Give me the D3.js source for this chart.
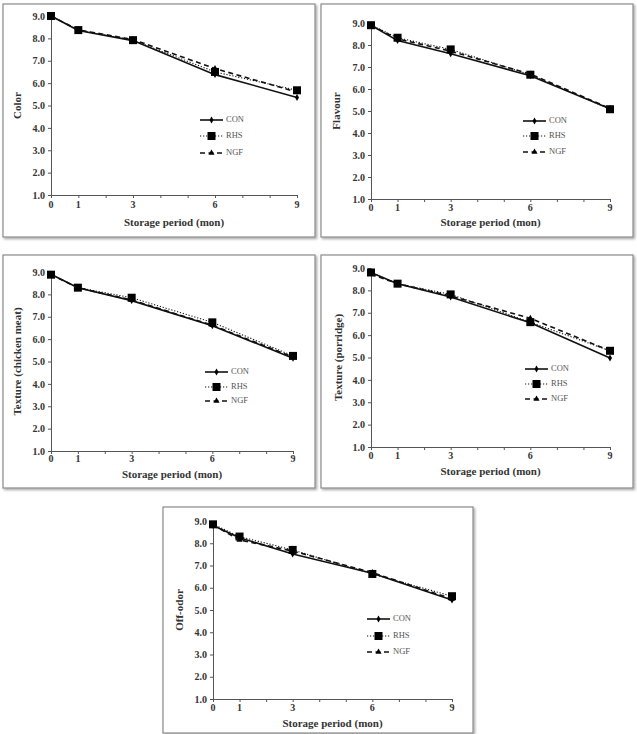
<!DOCTYPE html>
<html><head><meta charset="utf-8">
<script src="https://cdn.jsdelivr.net/npm/d3@7"></script>
<style>body{margin:0;background:#fff}svg{display:block}text{font-family:"Liberation Serif","Times New Roman","DejaVu Serif",serif}</style>
</head><body>
<script>
// ---- data ----
const months = [0, 1, 3, 6, 9];
const xTickValues = [0,1,2,3,4,5,6,7,8,9];
const xTickLabels = [0, 1, 3, 6, 9];
const yTickValues = [1,2,3,4,5,6,7,8,9];
const seriesNames = ["CON", "RHS", "NGF"];
const panelTitles = ["Color", "Flavour", "Texture (chicken meat)", "Texture (porridge)", "Off-odor"];
const xTitle = "Storage period (mon)";

const colorCON = [9.0, 8.35, 7.90, 6.38, 5.36];
const colorRHS = [9.0, 8.37, 7.92, 6.50, 5.68];
const colorNGF = [9.0, 8.38, 7.95, 6.65, 5.60];

const flavourCON = [8.9, 8.20, 7.60, 6.60, 5.10];
const flavourRHS = [8.9, 8.33, 7.80, 6.65, 5.08];
const flavourNGF = [8.9, 8.28, 7.72, 6.68, 5.12];

const chickenCON = [8.90, 8.30, 7.72, 6.60, 5.15];
const chickenRHS = [8.88, 8.30, 7.85, 6.75, 5.25];
const chickenNGF = [8.88, 8.30, 7.75, 6.62, 5.20];

const porridgeCON = [8.80, 8.30, 7.70, 6.55, 4.98];
const porridgeRHS = [8.80, 8.30, 7.82, 6.58, 5.30];
const porridgeNGF = [8.72, 8.30, 7.75, 6.75, 5.30];

const offodorCON = [8.80, 8.25, 7.52, 6.65, 5.45];
const offodorRHS = [8.85, 8.30, 7.70, 6.62, 5.62];
const offodorNGF = [8.82, 8.15, 7.65, 6.68, 5.50];

const panelData = [
  [colorCON, colorRHS, colorNGF],
  [flavourCON, flavourRHS, flavourNGF],
  [chickenCON, chickenRHS, chickenNGF],
  [porridgeCON, porridgeRHS, porridgeNGF],
  [offodorCON, offodorRHS, offodorNGF]
];

// ---- layout ----
const layouts = [
  {frame:[3,4,312,233],   ax:51,  ax9:297, yTop:16,  yBot:195, tickY:206, titleY:223, ytX:18,  legX:200, legY:[120,136,153]},
  {frame:[321,4,312,233], ax:371, ax9:610, yTop:23,  yBot:199, tickY:209, titleY:223, ytX:337, legX:523, legY:[121,136,152]},
  {frame:[3,255,312,233], ax:51,  ax9:293, yTop:272, yBot:451, tickY:460, titleY:475, ytX:18,  legX:205, legY:[372,387,401]},
  {frame:[321,255,312,233],ax:371,ax9:610, yTop:268, yBot:447, tickY:457, titleY:472, ytX:339, legX:525, legY:[369,384,399]},
  {frame:[163,507,310,226],ax:213,ax9:452, yTop:521, yBot:699, tickY:709, titleY:724, ytX:180, legX:367, legY:[619,636,652]}
];

const styles = {
  CON: {dash:null,  width:1.6, marker:"diamond"},
  RHS: {dash:"1.2,1.8", width:1.1, marker:"square"},
  NGF: {dash:"5,3.5", width:1.6, marker:"triangle"}
};

const svg = d3.select("body").append("svg").attr("width",637).attr("height",734);
const defs = svg.append("defs");
const f = defs.append("filter").attr("id","sh").attr("x","-5%").attr("y","-5%").attr("width","110%").attr("height","110%");
f.append("feDropShadow").attr("dx",1.5).attr("dy",1.5).attr("stdDeviation",1.2).attr("flood-color","#000").attr("flood-opacity",0.35);

function marker(g, type, x, y){
  if(type==="square"){
    g.append("rect").attr("x",x-4).attr("y",y-4).attr("width",8).attr("height",8).attr("fill","#000");
  } else if(type==="diamond"){
    g.append("path").attr("d",d3.symbol(d3.symbolDiamond,14)()).attr("transform",`translate(${x},${y})`).attr("fill","#000");
  } else {
    g.append("path").attr("d",d3.symbol(d3.symbolTriangle,16)()).attr("transform",`translate(${x},${y})`).attr("fill","#000");
  }
}

const FONT = '"Liberation Serif","Times New Roman","DejaVu Serif",serif';

panelData.forEach((series, pi) => {
  const L = layouts[pi];
  const g = svg.append("g");
  const [fx,fy,fw,fh] = L.frame;
  g.append("rect").attr("x",fx).attr("y",fy).attr("width",fw).attr("height",fh)
    .attr("fill","#fff").attr("stroke","#8a8a8a").attr("stroke-width",1.2).attr("filter","url(#sh)");

  const x = d3.scaleLinear().domain([0,9]).range([L.ax, L.ax9]);
  const y = d3.scaleLinear().domain([1,9]).range([L.yBot, L.yTop]);

  const xa = g.append("g").attr("transform",`translate(0,${L.yBot})`)
    .call(d3.axisBottom(x).tickValues(xTickValues).tickSize(3).tickSizeOuter(0).tickFormat(""));
  xa.select(".domain").attr("stroke","#555");
  xa.selectAll(".tick line").attr("stroke","#555");
  const ya = g.append("g").attr("transform",`translate(${L.ax},0)`)
    .call(d3.axisLeft(y).tickValues(yTickValues).tickSize(3).tickSizeOuter(0).tickFormat(d3.format(".1f")));
  ya.attr("font-family",FONT);
  xa.attr("font-family",FONT);
  ya.select(".domain").attr("stroke","#555");
  ya.selectAll(".tick line").attr("stroke","#555");
  ya.selectAll(".tick text").style("font-family",FONT).attr("font-weight","bold")
    .attr("font-size",10).attr("fill","#333").attr("x",-6);

  g.selectAll(".xl").data(xTickLabels).enter().append("text")
    .attr("x",d=>x(d)).attr("y",L.tickY).attr("text-anchor","middle").attr("dominant-baseline","middle")
    .style("font-family",FONT).attr("font-weight","bold").attr("font-size",10).attr("fill","#333")
    .text(d=>d);

  g.append("text").attr("x",(L.ax+L.ax9)/2).attr("y",L.titleY).attr("text-anchor","middle")
    .attr("dominant-baseline","middle").style("font-family",FONT).attr("font-weight","bold")
    .attr("font-size",11).attr("fill","#333").text(xTitle);

  g.append("text").attr("transform",`translate(${L.ytX},${(L.yTop+L.yBot)/2}) rotate(-90)`)
    .attr("text-anchor","middle").attr("dominant-baseline","middle").style("font-family",FONT)
    .attr("font-weight","bold").attr("font-size",11).attr("fill","#333").text(panelTitles[pi]);

  const line = d3.line().x((d,i)=>x(months[i])).y(d=>y(d));
  series.forEach((vals, si) => {
    const st = styles[seriesNames[si]];
    g.append("path").attr("d",line(vals)).attr("fill","none").attr("stroke","#111")
      .attr("stroke-width",st.width).attr("stroke-dasharray",st.dash);
    vals.forEach((v,i)=>marker(g, st.marker, x(months[i]), y(v)));
    const ly = L.legY[si];
    g.append("line").attr("x1",L.legX).attr("x2",L.legX+23).attr("y1",ly).attr("y2",ly)
      .attr("stroke","#111").attr("stroke-width",st.width).attr("stroke-dasharray",st.dash);
    marker(g, st.marker, L.legX+11.5, ly);
    g.append("text").attr("x",L.legX+26).attr("y",ly).attr("dominant-baseline","middle")
      .style("font-family",FONT).attr("font-size",8.5).attr("fill","#555").text(seriesNames[si]);
  });
});
</script>
</body></html>
